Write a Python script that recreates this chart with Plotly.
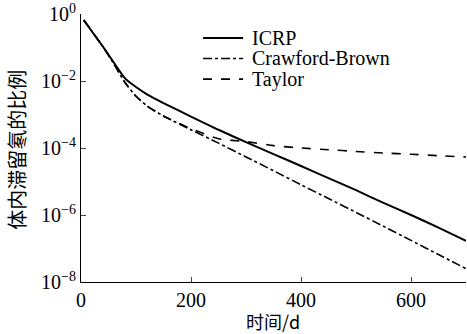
import plotly.graph_objects as go

days = [5, 20, 40, 60, 80, 100, 120, 150, 200, 250, 300, 350, 400, 450, 500, 550, 600, 650, 700]
icrp = [6.6e-1, 3.0e-1, 1.05e-1, 3.5e-2, 1.2e-2, 6.6e-3, 4.0e-3, 2.2e-3, 8.7e-4, 3.5e-4, 1.5e-4,
        6.6e-5, 2.9e-5, 1.26e-5, 5.5e-6, 2.3e-6, 1.0e-6, 4.2e-7, 1.7e-7]
crawford = [6.6e-1, 3.0e-1, 1.05e-1, 3.2e-2, 9.0e-3, 3.5e-3, 1.8e-3, 9.0e-4, 3.5e-4, 1.4e-4, 5.4e-5,
            2.1e-5, 8.0e-6, 3.1e-6, 1.2e-6, 4.6e-7, 1.75e-7, 6.6e-8, 2.5e-8]
taylor = [6.6e-1, 3.0e-1, 1.05e-1, 3.2e-2, 9.0e-3, 3.5e-3, 1.8e-3, 9.0e-4, 3.8e-4, 1.9e-4, 1.55e-4,
          1.18e-4, 1.0e-4, 8.9e-5, 7.9e-5, 7.1e-5, 6.5e-5, 5.9e-5, 5.4e-5]

series_names = ["ICRP", "Crawford-Brown", "Taylor"]
x_ticks = [0, 200, 400, 600]
y_ticks = [1, 1e-2, 1e-4, 1e-6, 1e-8]
y_tick_text = ["10<sup>0</sup>", "10<sup>−2</sup>", "10<sup>−4</sup>", "10<sup>−6</sup>", "10<sup>−8</sup>"]
x_title = "时间/d"
y_title = "体内滞留氡的比例"

SERIF = "Times New Roman, Liberation Serif, serif"
CJK = "Noto Sans CJK SC"

styles = [("solid", 2.0), ("dashdot", 1.6), ("dash", 1.6)]

fig = go.Figure()
for name, ys, (dash, w) in zip(series_names, [icrp, crawford, taylor], styles):
    fig.add_trace(go.Scatter(x=days, y=ys, mode="lines", name=name, showlegend=False,
                             line=dict(color="black", width=w, dash=dash, shape="spline", smoothing=0.6)))

# manual legend (compact rows like the reference)
shapes = []
annotations = []
leg_x0, leg_x1, leg_tx = 0.317, 0.421, 0.439
leg_rows = [0.910, 0.834, 0.757]
for name, (dash, w), ry in zip(series_names, styles, leg_rows):
    shapes.append(dict(type="line", xref="paper", yref="paper", x0=leg_x0, x1=leg_x1, y0=ry, y1=ry,
                       line=dict(color="black", width=w, dash=dash)))
    annotations.append(dict(text=name, x=leg_tx, y=ry, xref="paper", yref="paper", showarrow=False,
                            xanchor="left", yanchor="middle", font=dict(size=20, family=SERIF)))

annotations += [
    dict(text=x_title, x=0.499, y=-0.146, xref="paper", yref="paper", showarrow=False,
         xanchor="center", yanchor="middle", font=dict(size=18, family=CJK)),
    dict(text=y_title, x=-0.168, y=0.495, xref="paper", yref="paper", showarrow=False,
         textangle=-90, xanchor="center", yanchor="middle", font=dict(size=20, family=CJK)),
]

fig.update_layout(
    width=467, height=334,
    margin=dict(l=81, r=1, t=14, b=52, autoexpand=False),
    paper_bgcolor="white", plot_bgcolor="white",
    font=dict(family=SERIF, size=18, color="black"),
    showlegend=False,
    shapes=shapes,
    annotations=annotations,
)
fig.update_xaxes(range=[0, 700], tickvals=x_ticks, ticks="inside", ticklen=5, automargin=False,
                 showline=True, linecolor="black", linewidth=1, showgrid=False, zeroline=False,
                 tickfont=dict(size=20, family=SERIF), ticklabeloverflow="allow")
fig.update_yaxes(type="log", range=[-8, 0], tickvals=y_ticks, ticktext=y_tick_text, automargin=False,
                 ticks="inside", ticklen=5, showline=True, linecolor="black", linewidth=1,
                 showgrid=False, zeroline=False, tickfont=dict(size=20, family=SERIF),
                 ticklabeloverflow="allow")

fig.write_html("out.html", config={"displayModeBar": False},
               post_script="document.body.style.margin='0px';")
